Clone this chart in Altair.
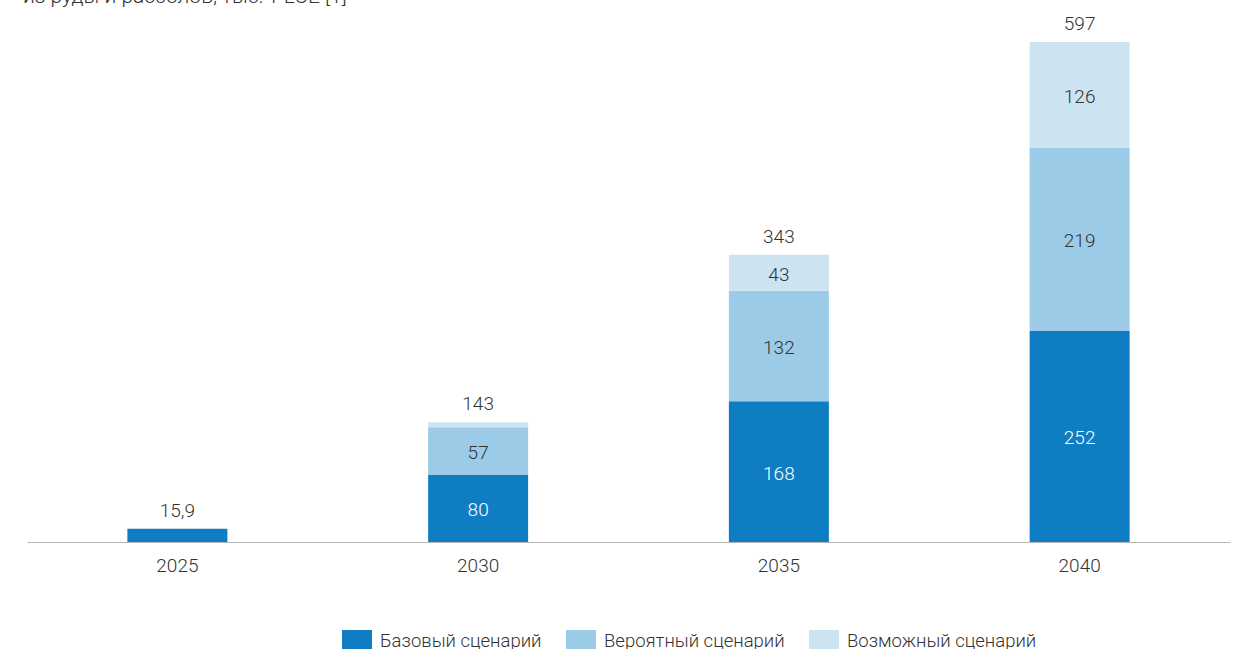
import altair as alt
import pandas as pd

years = ["2025", "2030", "2035", "2040"]
series = ["Базовый сценарий", "Вероятный сценарий", "Возможный сценарий"]
base = [15.9, 80, 168, 252]
likely = [0, 57, 132, 219]
possible = [0, 6, 43, 126]
totals = [15.9, 143, 343, 597]
colors = ["#0e7dc2", "#9ccbe8", "#cce4f2"]
subtitle = "из руды и рассолов, тыс. т LCE [1]"

FONT = "Roboto"
FS = 19
FW = 300


def fmt(v):
    s = f"{v:g}"
    return s.replace(".", ",")


rows = []
for i, y in enumerate(years):
    cum = 0
    for k, (s, vals) in enumerate(zip(series, [base, likely, possible])):
        v = vals[i]
        rows.append({
            "year": y, "series": s, "value": v, "order": k,
            "mid": cum + v / 2,
            "label": fmt(v) if v >= 20 else "",
            "tcolor": "white" if k == 0 else "dark",
        })
        cum += v
df = pd.DataFrame(rows)
tot = pd.DataFrame({"year": years, "total": totals, "label": [fmt(t) for t in totals]})

ydom = [0, 597 * 542 / 500]
yscale = alt.Scale(domain=ydom, nice=False, zero=True)
xenc = alt.X("year:N", sort=years, title=None,
             scale=alt.Scale(paddingInner=0, paddingOuter=0),
             axis=alt.Axis(labelAngle=0, ticks=False, labelPadding=14, labelFontSize=FS,
                           labelFont=FONT, labelFontWeight=FW, labelColor="#333333",
                           domainColor="#b5b5b5", domainWidth=1, grid=False))

bars = alt.Chart(df).mark_bar(size=100).encode(
    x=xenc,
    y=alt.Y("value:Q", stack="zero", scale=yscale, axis=None),
    color=alt.Color("series:N", scale=alt.Scale(domain=series, range=colors),
                    legend=alt.Legend(orient="none", legendX=315, legendY=626, direction="horizontal",
                                      title=None, symbolType="M-1,-0.733H1V0.733H-1Z", symbolSize=900,
                                      symbolStrokeWidth=0, symbolOpacity=1, labelFont=FONT,
                                      labelFontWeight=FW, labelFontSize=18.5, labelColor="#333333",
                                      labelOffset=8, columnPadding=24, labelLimit=400)),
    order=alt.Order("order:Q", sort="ascending"),
)

seg = alt.Chart(df).mark_text(font=FONT, fontSize=FS, fontWeight=FW, baseline="middle", dy=2).encode(
    x=alt.X("year:N", sort=years),
    y=alt.Y("mid:Q", scale=yscale),
    text="label:N",
    color=alt.Color("tcolor:N", scale=alt.Scale(domain=["white", "dark"], range=["#ffffff", "#333333"]),
                    legend=None),
)

totl = alt.Chart(tot).mark_text(font=FONT, fontSize=FS, fontWeight=FW, baseline="alphabetic", dy=-12,
                                color="#333333").encode(
    x=alt.X("year:N", sort=years),
    y=alt.Y("total:Q", scale=yscale),
    text="label:N",
)

head = alt.Chart(pd.DataFrame({"t": [subtitle]})).mark_text(
    font=FONT, fontSize=21, fontWeight=FW, align="left", baseline="alphabetic", color="#333333"
).encode(x=alt.value(-4), y=alt.value(3), text="t:N")

chart = alt.layer(bars, seg, totl, head).resolve_scale(color="independent").properties(
    width=1203, height=542,
    autosize=alt.AutoSizeParams(type="none"),
    padding={"left": 27, "top": 0, "right": 9, "bottom": 107},
).configure(background="white").configure_view(stroke=None, strokeWidth=0)

chart.save("out.html", embed_options={"renderer": "svg", "actions": False})
